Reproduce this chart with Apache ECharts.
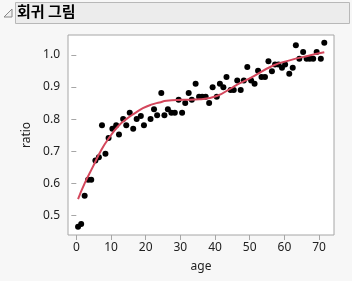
<!DOCTYPE html>
<html><head><meta charset="utf-8">
<script src="https://cdn.jsdelivr.net/npm/echarts@6/dist/echarts.min.js"></script>
<style>html,body{margin:0;padding:0;background:#f7f7f7;}#c{width:352px;height:281px;}</style>
</head><body><div id="c"></div>
<script>
const title = '회귀 그림';
const xName = 'age';
const yName = 'ratio';
const xTicks = [0, 10, 20, 30, 40, 50, 60, 70];
const yTicks = [0.5, 0.6, 0.7, 0.8, 0.9, 1.0];
const ages = [0.5,1.4,2.4,3.4,4.3,5.5,6.5,7.4,8.4,9.3,10.4,11.5,12.3,13.5,14.4,15.4,16.4,17.4,18.6,19.5,
  21.4,22.4,23.3,24.5,25.4,26.4,27.4,28.4,29.5,30.5,31.4,32.4,33.3,34.4,35.4,36.3,37.3,38.3,39.3,40.5,
  41.4,42.4,43.3,44.5,45.4,46.4,47.4,48.3,49.3,50.4,51.4,52.4,53.4,54.4,55.4,56.4,57.3,58.3,59.3,60.2,
  61.4,62.4,63.3,64.3,65.4,66.4,67.3,68.3,69.3,70.5,71.5];
const ratios = [0.465,0.473,0.561,0.611,0.611,0.671,0.681,0.781,0.692,0.741,0.770,0.781,0.752,0.800,0.781,0.820,0.770,0.800,0.810,0.781,
  0.800,0.831,0.812,0.881,0.812,0.831,0.820,0.820,0.860,0.820,0.850,0.881,0.860,0.910,0.870,0.870,0.870,0.850,0.899,0.870,
  0.910,0.899,0.931,0.891,0.891,0.920,0.891,0.920,0.962,0.920,0.910,0.951,0.931,0.931,0.980,0.949,0.970,0.970,0.960,0.970,
  0.941,0.960,1.030,0.988,1.009,0.988,0.988,0.988,1.009,0.988,1.038];
const fitAges = [0.5,2.4,4.8,7.2,9.6,12,14.4,16.8,19.2,21.6,24,26,30.8,35.6,40.5,45.2,47.2,50,56.8,61.5,66.4,71.5];
const fitVals = [0.551,0.600,0.652,0.704,0.744,0.777,0.800,0.818,0.834,0.845,0.852,0.857,0.860,0.862,0.872,0.900,0.912,0.927,0.967,0.983,0.996,1.008];

const chart = echarts.init(document.getElementById('c'), null, {renderer:'canvas'});
const font = '"Segoe UI","Noto Sans","DejaVu Sans",sans-serif';
chart.setOption({
  backgroundColor: '#f7f7f7',
  animation: false,
  graphic: [
    {type:'rect', shape:{x:15.5,y:2.5,width:334,height:21}, style:{fill:'#ececec', stroke:'#b8b8b8', lineWidth:1}},
    {type:'polygon', shape:{points:[[4,17],[12,17],[12,9]]}, style:{fill:'#f0f0f0', stroke:'#888', lineWidth:1}},
    {type:'text', left:17, top:4, style:{text:title, font:'bold 15px "Noto Sans CJK KR", sans-serif', fill:'#000'}}
  ],
  grid: {left:68, top:35, right:18, bottom:46, show:true, backgroundColor:'#fff', borderColor:'#a6a6a6', borderWidth:1},
  xAxis: {
    type:'value', min:-2.4, max:74.3,
    name:xName, nameLocation:'middle', nameGap:26,
    nameTextStyle:{fontFamily:font, fontSize:12, color:'#222'},
    axisLine:{show:false},
    axisTick:{show:true, length:5, lineStyle:{color:'#a6a6a6'}, customValues:xTicks},
    axisLabel:{fontFamily:font, fontSize:12, color:'#222', margin:7, customValues:xTicks},
    splitLine:{show:false}
  },
  yAxis: {
    type:'value', min:0.439, max:1.062,
    name:yName, nameLocation:'middle', nameGap:34, nameRotate:90,
    nameTextStyle:{fontFamily:font, fontSize:12, color:'#222'},
    axisLine:{show:false},
    axisTick:{show:true, length:5, lineStyle:{color:'#a6a6a6'}, customValues:yTicks},
    axisLabel:{fontFamily:font, fontSize:12, color:'#222', margin:8, customValues:yTicks, formatter:v=>v.toFixed(1)},
    splitLine:{show:false}
  },
  series: [
    {type:'scatter', data: ages.map((a,i)=>[a, ratios[i]]), symbolSize:6, itemStyle:{color:'#000', opacity:1}, z:2},
    {type:'line', data: fitAges.map((a,i)=>[a, fitVals[i]]), smooth:true, showSymbol:false, lineStyle:{color:'#d4475c', width:2}, z:3}
  ]
});
</script></body></html>
